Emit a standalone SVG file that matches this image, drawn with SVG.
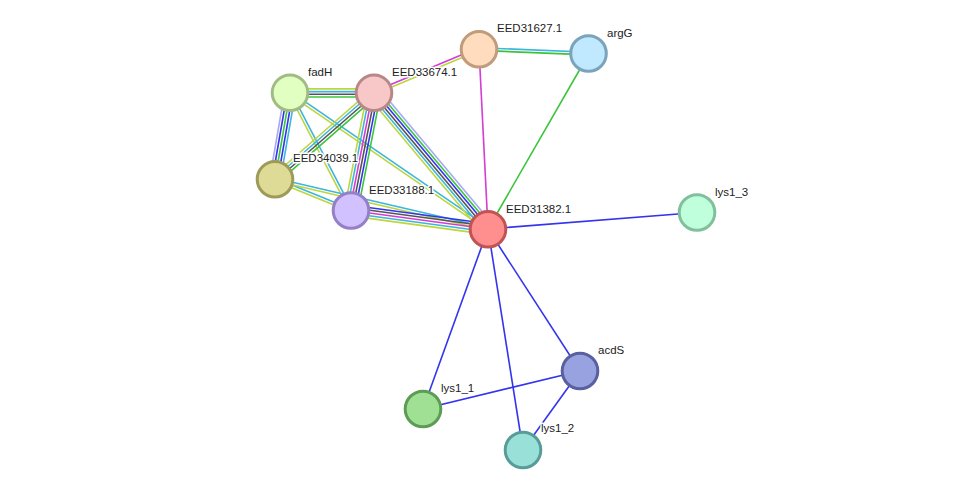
<svg xmlns="http://www.w3.org/2000/svg" width="976" height="495" viewBox="0 0 976 495">
<style>
.e line{stroke-width:1.6;fill:none;stroke-linecap:butt}
.yg{stroke:#bcd640}.cy{stroke:#3cb6dc}.gr{stroke:#555555}.gn{stroke:#3cc43c}.bl{stroke:#3434ee}.mg{stroke:#d43cd4}.lv{stroke:#a8a8f4}
.n circle{stroke-width:3}
.n text{font-family:"Liberation Sans",Arial,Helvetica,sans-serif;font-size:11.5px;fill:#222;stroke:#fff;stroke-width:3;stroke-linejoin:round;paint-order:stroke}
</style>
<rect width="976" height="495" fill="#fff"/>
<g id="edges" class="e">
<!-- fadH - EED33674.1 -->
<line class="yg" x1="290" y1="88.9" x2="374" y2="88.9"/>
<line class="cy" x1="290" y1="91.6" x2="374" y2="91.6"/>
<line class="gr" x1="290" y1="94.3" x2="374" y2="94.3"/>
<line class="gn" x1="290" y1="97" x2="374" y2="97"/>
<!-- fadH - EED34039.1 -->
<line class="lv" x1="284.7" y1="92.1" x2="269.7" y2="178.6"/>
<line class="bl" x1="287.3" y1="92.5" x2="272.3" y2="179"/>
<line class="gn" x1="290" y1="93" x2="275" y2="179.5"/>
<line class="bl" x1="292.7" y1="93.5" x2="277.7" y2="180"/>
<line class="cy" x1="295.3" y1="93.9" x2="280.3" y2="180.4"/>
<!-- fadH - EED33188.1 -->
<line class="yg" x1="288.8" y1="93.6" x2="349.8" y2="211.1"/>
<line class="cy" x1="291.2" y1="92.4" x2="352.2" y2="209.9"/>
<!-- fadH - EED31382.1 -->
<line class="cy" x1="290.8" y1="91.9" x2="488.8" y2="227.9"/>
<line class="yg" x1="289.2" y1="94.1" x2="487.2" y2="230.1"/>
<!-- EED33674.1 - EED34039.1 -->
<line class="yg" x1="371.3" y1="90" x2="272.3" y2="176.5"/>
<line class="cy" x1="373.1" y1="92" x2="274.1" y2="178.5"/>
<line class="gr" x1="374.9" y1="94" x2="275.9" y2="180.5"/>
<line class="gn" x1="376.7" y1="96.1" x2="277.7" y2="182.6"/>
<!-- EED33674.1 - EED33188.1 -->
<line class="yg" x1="367.4" y1="91.7" x2="344.4" y2="209.2"/>
<line class="cy" x1="370" y1="92.2" x2="347" y2="209.7"/>
<line class="mg" x1="372.7" y1="92.7" x2="349.7" y2="210.2"/>
<line class="gr" x1="375.3" y1="93.3" x2="352.3" y2="210.8"/>
<line class="bl" x1="378" y1="93.8" x2="355" y2="211.3"/>
<line class="gn" x1="380.6" y1="94.3" x2="357.6" y2="211.8"/>
<!-- EED33674.1 - EED31382.1 -->
<line class="yg" x1="368.8" y1="97.3" x2="482.8" y2="233.3"/>
<line class="cy" x1="370.9" y1="95.6" x2="484.9" y2="231.6"/>
<line class="gr" x1="373" y1="93.9" x2="487" y2="229.9"/>
<line class="bl" x1="375" y1="92.1" x2="489" y2="228.1"/>
<line class="gn" x1="377.1" y1="90.4" x2="491.1" y2="226.4"/>
<line class="lv" x1="379.2" y1="88.7" x2="493.2" y2="224.7"/>
<!-- EED33674.1 - EED31627.1 -->
<line class="mg" x1="373.5" y1="91.8" x2="478.5" y2="47.8"/>
<line class="yg" x1="374.5" y1="94.3" x2="479.5" y2="50.3"/>
<!-- EED34039.1 - EED33188.1 -->
<line class="cy" x1="275.5" y1="178.3" x2="351.5" y2="209.3"/>
<line class="yg" x1="274.5" y1="180.8" x2="350.5" y2="211.8"/>
<!-- EED34039.1 - EED31382.1 -->
<line class="cy" x1="275.3" y1="178.2" x2="488.3" y2="227.7"/>
<line class="yg" x1="274.7" y1="180.8" x2="487.7" y2="230.3"/>
<!-- EED33188.1 - EED31382.1 -->
<line class="bl" x1="351.7" y1="205.2" x2="488.7" y2="223.7"/>
<line class="gr" x1="351.4" y1="207.8" x2="488.4" y2="226.3"/>
<line class="mg" x1="351" y1="210.5" x2="488" y2="229"/>
<line class="cy" x1="350.6" y1="213.2" x2="487.6" y2="231.7"/>
<line class="yg" x1="350.3" y1="215.9" x2="487.3" y2="234.4"/>
<!-- EED31627.1 - argG -->
<line class="cy" x1="479" y1="47.7" x2="589" y2="52.2"/>
<line class="gn" x1="479" y1="50.4" x2="589" y2="54.9"/>
<!-- singles -->
<line class="mg" x1="479" y1="49" x2="488" y2="229"/>
<line class="gn" x1="589" y1="53.5" x2="488" y2="229"/>
<line class="bl" x1="488" y1="229" x2="697" y2="212.5"/>
<line class="bl" x1="488" y1="229" x2="580" y2="371"/>
<line class="bl" x1="488" y1="229" x2="423" y2="409"/>
<line class="bl" x1="488" y1="229" x2="523" y2="450"/>
<line class="bl" x1="580" y1="371" x2="423" y2="409"/>
<line class="bl" x1="580" y1="371" x2="523" y2="450"/>
</g>
<g id="node-EED31627.1" class="n"><circle cx="479" cy="49.3" r="17.8" fill="#ffdcbe" stroke="#c09c7c"/><text x="497" y="31.5">EED31627.1</text></g>
<g id="node-argG" class="n"><circle cx="588.5" cy="53.5" r="17.8" fill="#c0e8ff" stroke="#7ba3bb"/><text x="607" y="36.5">argG</text></g>
<g id="node-fadH" class="n"><circle cx="290" cy="92.8" r="17.8" fill="#e0ffc0" stroke="#a0bc84"/><text x="308" y="75.5">fadH</text></g>
<g id="node-EED33674.1" class="n"><circle cx="374" cy="92.8" r="17.8" fill="#f8c8c8" stroke="#b88888"/><text x="392" y="76">EED33674.1</text></g>
<g id="node-EED34039.1" class="n"><circle cx="275" cy="179.3" r="17.8" fill="#dedb96" stroke="#9e9a58"/><text x="293" y="162">EED34039.1</text></g>
<g id="node-EED33188.1" class="n"><circle cx="351" cy="210.5" r="17.8" fill="#d1c1ff" stroke="#9580c8"/><text x="369" y="193.5">EED33188.1</text></g>
<g id="node-EED31382.1" class="n"><circle cx="488" cy="229.3" r="17.8" fill="#ff8f8f" stroke="#c05454"/><text x="506" y="212.5">EED31382.1</text></g>
<g id="node-lys1_3" class="n"><circle cx="697" cy="212.5" r="17.8" fill="#c0ffdc" stroke="#80c09c"/><text x="715" y="195.5">lys1_3</text></g>
<g id="node-acdS" class="n"><circle cx="580" cy="371" r="17.8" fill="#98a2e0" stroke="#5860a0"/><text x="598" y="353.5">acdS</text></g>
<g id="node-lys1_1" class="n"><circle cx="423" cy="409" r="17.8" fill="#a0e094" stroke="#5c9c54"/><text x="441" y="391.5">lys1_1</text></g>
<g id="node-lys1_2" class="n"><circle cx="523" cy="450" r="17.8" fill="#98e0d8" stroke="#589c98"/><text x="541" y="432">lys1_2</text></g>
</svg>
